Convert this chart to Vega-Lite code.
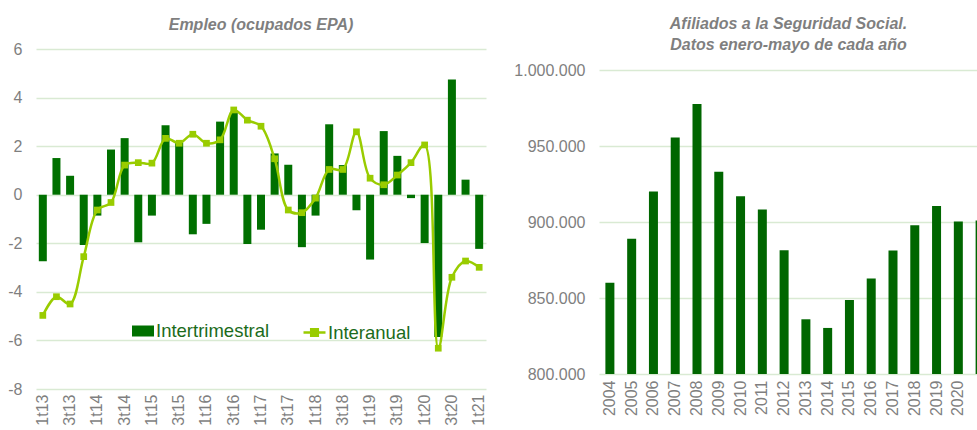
{
  "$schema": "https://vega.github.io/schema/vega-lite/v6.json",
  "padding": {"left": 7, "top": 16, "right": 0, "bottom": 0},
  "spacing": 26,
  "config": {
    "font": "Liberation Sans",
    "view": {"stroke": null},
    "locale": {"number": {"decimal": ",", "thousands": ".", "grouping": [3], "currency": ["", " €"], "minus": "-"}},
    "axis": {"labelColor": "#7f7f7f", "labelFont": "Liberation Sans", "ticks": false, "domain": false, "title": null, "gridColor": "#d9ead3", "gridWidth": 1.5},
    "title": {"font": "Liberation Sans", "fontSize": 16, "fontStyle": "italic", "fontWeight": "bold", "color": "#7f7f7f", "anchor": "middle"}
  },
  "hconcat": [
    {
      "width": 450,
      "height": 340,
      "title": {"text": "Empleo (ocupados EPA)", "offset": 8},
      "data": {"values": [
        {"q": "1t13", "inter": -2.74, "anual": -4.97},
        {"q": "2t13", "inter": 1.51, "anual": -4.2},
        {"q": "3t13", "inter": 0.78, "anual": -4.5},
        {"q": "4t13", "inter": -2.07, "anual": -2.55},
        {"q": "1t14", "inter": -0.86, "anual": -0.63},
        {"q": "2t14", "inter": 1.86, "anual": -0.32},
        {"q": "3t14", "inter": 2.33, "anual": 1.22},
        {"q": "4t14", "inter": -1.96, "anual": 1.32},
        {"q": "1t15", "inter": -0.86, "anual": 1.3},
        {"q": "2t15", "inter": 2.86, "anual": 2.32},
        {"q": "3t15", "inter": 2.15, "anual": 2.12},
        {"q": "4t15", "inter": -1.63, "anual": 2.49},
        {"q": "1t16", "inter": -1.2, "anual": 2.12},
        {"q": "2t16", "inter": 3.01, "anual": 2.26},
        {"q": "3t16", "inter": 3.38, "anual": 3.49},
        {"q": "4t16", "inter": -2.03, "anual": 3.07},
        {"q": "1t17", "inter": -1.44, "anual": 2.82},
        {"q": "2t17", "inter": 1.7, "anual": 1.48},
        {"q": "3t17", "inter": 1.23, "anual": -0.63},
        {"q": "4t17", "inter": -2.16, "anual": -0.74},
        {"q": "1t18", "inter": -0.86, "anual": -0.14},
        {"q": "2t18", "inter": 2.9, "anual": 1.04},
        {"q": "3t18", "inter": 1.22, "anual": 1.04},
        {"q": "4t18", "inter": -0.64, "anual": 2.59},
        {"q": "1t19", "inter": -2.67, "anual": 0.68},
        {"q": "2t19", "inter": 2.62, "anual": 0.41},
        {"q": "3t19", "inter": 1.6, "anual": 0.81},
        {"q": "4t19", "inter": -0.14, "anual": 1.32},
        {"q": "1t20", "inter": -1.99, "anual": 2.05},
        {"q": "2t20", "inter": -5.86, "anual": -6.32},
        {"q": "3t20", "inter": 4.74, "anual": -3.4},
        {"q": "4t20", "inter": 0.62, "anual": -2.73},
        {"q": "1t21", "inter": -2.23, "anual": -2.99}
      ]},
      "encoding": {
        "x": {
          "field": "q", "type": "ordinal", "sort": null,
          "scale": {"paddingInner": 0, "paddingOuter": 0},
          "axis": {
            "labelAngle": -90, "labelFontSize": 16, "labelPadding": 5,
            "values": ["1t13","3t13","1t14","3t14","1t15","3t15","1t16","3t16","1t17","3t17","1t18","3t18","1t19","3t19","1t20","3t20","1t21"]
          }
        }
      },
      "layer": [
        {
          "mark": {"type": "bar", "width": 8},
          "encoding": {
            "y": {"field": "inter", "type": "quantitative", "scale": {"domain": [-8, 6], "nice": false},
                  "axis": {"values": [-8, -6, -4, -2, 0, 2, 4, 6], "labelFontSize": 16, "labelPadding": 14, "grid": true}},
            "fill": {"datum": "Intertrimestral", "scale": {"range": ["#007000"]},
                     "legend": {"orient": "none", "legendX": 96, "legendY": 271, "title": null, "symbolType": "M-1,-0.5H1V0.5H-1Z", "symbolSize": 484, "symbolStrokeWidth": 0, "labelFontSize": 18.5, "labelColor": "#1b6b1b", "labelOffset": 2}}
          }
        },
        {
          "mark": {"type": "line", "interpolate": "catmull-rom", "strokeWidth": 2.5},
          "encoding": {
            "y": {"field": "anual", "type": "quantitative"},
            "stroke": {"datum": "Interanual", "scale": {"range": ["#99cc00"]},
                       "legend": {"orient": "none", "legendX": 266, "legendY": 271, "title": null, "symbolType": "M-1,0H1M-0.3,-0.3H0.3V0.3H-0.3Z", "symbolSize": 484, "symbolStrokeWidth": 2.5, "labelFontSize": 18.5, "labelColor": "#1b6b1b", "labelOffset": 1,
                                  "symbolFillColor": "#99cc00"}}
          }
        },
        {
          "mark": {"type": "square", "size": 45, "color": "#99cc00", "opacity": 1},
          "encoding": {"y": {"field": "anual", "type": "quantitative"}}
        }
      ]
    },
    {
      "width": 379,
      "height": 325,
      "title": {"text": ["Afiliados a la Seguridad Social.", "Datos enero-mayo de cada año"], "lineHeight": 21, "offset": -4},
      "data": {"values": [
        {"year": "2004", "afiliados": 860000},
        {"year": "2005", "afiliados": 889000},
        {"year": "2006", "afiliados": 920000},
        {"year": "2007", "afiliados": 955600},
        {"year": "2008", "afiliados": 977600},
        {"year": "2009", "afiliados": 933000},
        {"year": "2010", "afiliados": 917000},
        {"year": "2011", "afiliados": 908200},
        {"year": "2012", "afiliados": 881400},
        {"year": "2013", "afiliados": 836000},
        {"year": "2014", "afiliados": 830300},
        {"year": "2015", "afiliados": 848700},
        {"year": "2016", "afiliados": 862800},
        {"year": "2017", "afiliados": 881200},
        {"year": "2018", "afiliados": 897900},
        {"year": "2019", "afiliados": 910600},
        {"year": "2020", "afiliados": 900300},
        {"year": "2021", "afiliados": 901000}
      ]},
      "mark": {"type": "bar", "width": 9, "color": "#006600", "clip": true},
      "encoding": {
        "x": {"field": "year", "type": "ordinal", "sort": null,
              "scale": {"paddingInner": 0, "paddingOuter": 0, "range": [0, 392]},
              "axis": {"labelAngle": -90, "labelFontSize": 16, "labelPadding": 6,
                       "values": ["2004","2005","2006","2007","2008","2009","2010","2011","2012","2013","2014","2015","2016","2017","2018","2019","2020"]}},
        "y": {"field": "afiliados", "type": "quantitative",
              "scale": {"domain": [800000, 1013816], "zero": false, "nice": false},
              "axis": {"values": [800000, 850000, 900000, 950000, 1000000], "format": ",.0f", "labelFontSize": 16, "labelPadding": 14, "grid": true}},
        "y2": {"datum": 800000}
      }
    }
  ]
}
